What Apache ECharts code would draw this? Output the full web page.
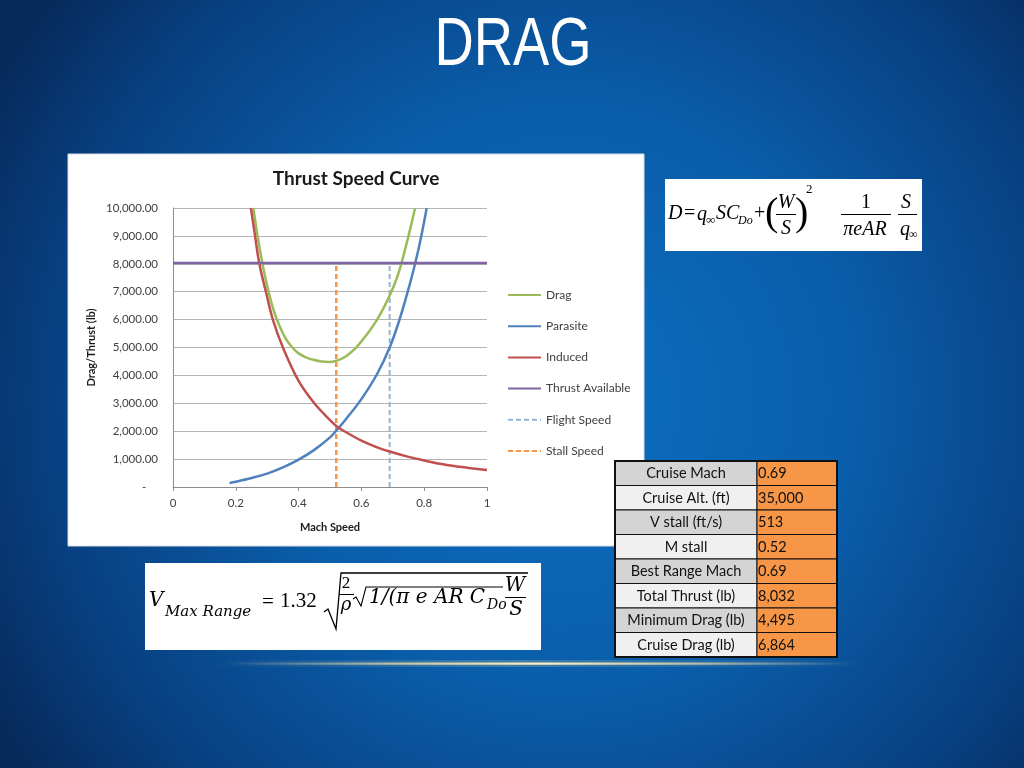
<!DOCTYPE html>
<html>
<head>
<meta charset="utf-8">
<script src="https://cdn.jsdelivr.net/npm/echarts@6/dist/echarts.min.js"></script>
<style>
html,body{margin:0;padding:0;width:1024px;height:768px;overflow:hidden;background:#0a4f98;}
#c{width:1024px;height:768px;}
</style>
</head>
<body>
<div id="c"></div>
<script>
// ---- chart data ----
const dragMach = [0.256,0.27,0.285,0.30,0.32,0.34,0.36,0.38,0.40,0.425,0.45,0.475,0.495,0.52,0.55,0.58,0.60,0.625,0.65,0.67,0.69,0.71,0.727,0.75,0.771];
const dragLb   = [10000,8950,8000,7200,6350,5750,5300,5000,4790,4640,4550,4495,4480,4520,4680,4960,5220,5580,6000,6400,6860,7400,8000,9000,10000];
const parasiteMach = [0.18,0.20,0.25,0.30,0.35,0.40,0.45,0.50,0.52,0.55,0.60,0.65,0.69,0.72,0.75,0.771,0.79,0.808];
const parasiteLb   = [140,185,320,480,700,980,1330,1780,2020,2420,3150,4050,5000,5950,7100,8000,8950,10000];
const inducedMach = [0.248,0.26,0.275,0.30,0.318,0.35,0.40,0.45,0.50,0.52,0.55,0.60,0.65,0.69,0.75,0.80,0.85,0.90,0.95,1.00];
const inducedLb   = [10000,9100,8000,6800,6000,5000,3800,3000,2400,2190,1970,1660,1420,1270,1080,950,830,740,670,610];
const thrustLb = 8032;
const cruiseMach = 0.69;
const stallMach = 0.52;
const xTicks = [0,0.2,0.4,0.6,0.8,1];
const legendNames = ['Drag','Parasite','Induced','Thrust Available','Flight Speed','Stall Speed'];
// ---- table data ----
const tableLabels = ['Cruise Mach','Cruise Alt. (ft)','V stall (ft/s)','M stall','Best Range Mach','Total Thrust (lb)','Minimum Drag (lb)','Cruise Drag (lb)'];
const tableValues = ['0.69','35,000','513','0.52','0.69','8,032','4,495','6,864'];

function pairs(xs, ys){ return xs.map((x,i)=>[x, ys[i]]); }

const chart = echarts.init(document.getElementById('c'), null, {renderer:'canvas'});

const CAL = 'Lato, "Open Sans", "Liberation Sans", sans-serif';
const SERIF = '"Liberation Serif", "DejaVu Serif", serif';
const DSERIF = '"DejaVu Serif", "Liberation Serif", serif';

function txt(x, y, text, font, opts){
  opts = opts || {};
  const el = {
    type:'text', x:x, y:y, z: opts.z !== undefined ? opts.z : 50,
    style:{
      text:text, font:font, fill: opts.fill || '#000',
      textAlign: opts.align || 'left', align: opts.align || 'left',
      textVerticalAlign: opts.valign || 'middle', verticalAlign: opts.valign || 'middle'
    }
  };
  if (opts.scaleX) el.scaleX = opts.scaleX;
  return el;
}
function hline(x1, x2, y, w, color, z){
  return {type:'line', z: z || 50, shape:{x1:x1,y1:y,x2:x2,y2:y}, style:{stroke: color || '#000', lineWidth: w || 1}};
}

const g = [];
// background
g.push({type:'rect', z:-100, shape:{x:0,y:0,width:1024,height:768},
  style:{fill:{type:'radial', x:0.55, y:0.52, r:0.85, colorStops:[
    {offset:0, color:'#0c6fc3'},{offset:0.45, color:'#0a5da9'},{offset:0.8, color:'#083f80'},{offset:1, color:'#062a5a'}]}}});
// title
g.push(txt(513, 46, 'DRAG', '68px "Liberation Sans", Arial, sans-serif', {fill:'#ffffff', align:'center', scaleX:0.8}));
// golden line
g.push({type:'rect', z:-50, shape:{x:210,y:660,width:660,height:7},
  style:{fill:{type:'linear',x:0,y:0,x2:1,y2:0,colorStops:[
    {offset:0,color:'rgba(230,210,150,0)'},{offset:0.45,color:'rgba(230,210,150,0.25)'},{offset:1,color:'rgba(230,210,150,0)'}]}}});
g.push({type:'rect', z:-49, shape:{x:225,y:662.5,width:630,height:2.2},
  style:{fill:{type:'linear',x:0,y:0,x2:1,y2:0,colorStops:[
    {offset:0,color:'rgba(240,225,170,0)'},{offset:0.3,color:'rgba(240,225,170,0.8)'},{offset:0.5,color:'rgba(250,240,200,1)'},{offset:0.75,color:'rgba(240,225,170,0.7)'},{offset:1,color:'rgba(240,225,170,0)'}]}}});
// chart white box
g.push({type:'rect', z:-10, shape:{x:68,y:154,width:576,height:392}, style:{fill:'#ffffff', stroke:'#d8dde8', lineWidth:1}});
// chart title
g.push(txt(356, 179, 'Thrust Speed Curve', 'bold 19px ' + CAL, {fill:'#1a1a1a', align:'center', z:5}));

// formula 1 box
g.push({type:'rect', z:10, shape:{x:665,y:179,width:257,height:72}, style:{fill:'#ffffff'}});
const F1 = 'italic 20px ' + SERIF, F1u = '20px ' + SERIF;
g.push(txt(668, 214, 'D', F1));
g.push(txt(684, 214, '=', F1u));
g.push(txt(697, 215, 'q', F1));
g.push(txt(706, 221, '\u221e', '13px ' + SERIF));
g.push(txt(716, 214, 'SC', F1));
g.push(txt(738, 221, 'Do', 'italic 12px ' + SERIF));
g.push(txt(754, 214, '+', F1u));
g.push(txt(765, 214, '(', '40px ' + SERIF));
g.push(txt(786, 203, 'W', F1, {align:'center'}));
g.push(hline(776, 796, 214.5, 1));
g.push(txt(786, 229, 'S', F1, {align:'center'}));
g.push(txt(795, 214, ')', '40px ' + SERIF));
g.push(txt(806, 190, '2', '13px ' + SERIF));
g.push(txt(866, 203, '1', F1u, {align:'center'}));
g.push(hline(841, 891, 214.5, 1));
g.push(txt(865, 230, '\u03c0eAR', F1, {align:'center'}));
g.push(txt(906, 203, 'S', F1, {align:'center'}));
g.push(hline(898, 917, 214.5, 1));
g.push(txt(900, 230, 'q', F1));
g.push(txt(909, 235, '\u221e', '12px ' + SERIF));

// formula 2 box
g.push({type:'rect', z:10, shape:{x:145,y:563,width:396,height:87}, style:{fill:'#ffffff'}});
const F2 = 'italic 20px ' + DSERIF;
g.push(txt(149, 601, 'V', F2));
g.push(txt(165, 612, 'Max Range', 'italic 15px ' + DSERIF));
g.push(txt(262, 602, '=', '21px ' + SERIF));
g.push(txt(280, 601, '1.32', '21px ' + SERIF));
g.push({type:'polyline', z:50, shape:{points:[[324,612],[328,609],[336,629],[341,573],[528,573]]}, style:{stroke:'#000', lineWidth:1.3, fill:null}});
g.push(txt(346, 584, '2', '17px ' + SERIF, {align:'center'}));
g.push(hline(339, 354, 594.5, 1));
g.push(txt(346, 605, '\u03c1', 'italic 18px ' + DSERIF, {align:'center'}));
g.push({type:'polyline', z:50, shape:{points:[[353,599],[356,597],[361,606],[366,587],[503,587]]}, style:{stroke:'#000', lineWidth:1.1, fill:null}});
g.push(txt(369, 598, '1/(\u03c0 e AR C', 'italic 20px ' + DSERIF));
g.push(txt(487, 605, 'Do', 'italic 14px ' + DSERIF));
g.push(txt(515, 586, 'W', F2, {align:'center'}));
g.push(hline(505, 526, 597.5, 1));
g.push(txt(516, 610, 'S', F2, {align:'center'}));

// table
const tx = 615, ty = 461, rh = 24.5, w1 = 142, w2 = 80;
tableLabels.forEach((lab, i) => {
  const y = ty + i * rh;
  g.push({type:'rect', z:60, shape:{x:tx,y:y,width:w1,height:rh}, style:{fill: i % 2 === 0 ? '#d4d4d4' : '#f0f0f0', stroke:'#111', lineWidth:1}});
  g.push({type:'rect', z:60, shape:{x:tx+w1,y:y,width:w2,height:rh}, style:{fill:'#f79646', stroke:'#111', lineWidth:1}});
  g.push(txt(tx + w1/2, y + rh/2 + 0.5, lab, '14.5px ' + CAL, {align:'center', fill:'#111', z:61}));
  g.push(txt(tx + w1 + 1, y + rh/2 + 0.5, tableValues[i], '14.5px ' + CAL, {fill:'#111', z:61}));
});
g.push({type:'rect', z:62, shape:{x:tx,y:ty,width:w1+w2,height:rh*8}, style:{fill:null, stroke:'#111', lineWidth:2}});

const option = {
  animation:false,
  backgroundColor:'transparent',
  graphic: g,
  grid:{left:173, top:208, width:314, height:279, containLabel:false},
  legend:{
    orient:'vertical', left:502, top:283, itemWidth:33, itemHeight:14, itemGap:17.2, itemTextGap:4,
    data: legendNames,
    itemStyle:{opacity:0},
    textStyle:{fontSize:12, color:'#404040', fontFamily:CAL, lineHeight:14}
  },
  xAxis:{
    type:'value', min:0, max:1, interval:0.2,
    name:'Mach Speed', nameLocation:'middle', nameGap:35,
    nameTextStyle:{fontSize:11, fontWeight:'bold', color:'#1a1a1a', fontFamily:CAL},
    axisLine:{show:true, lineStyle:{color:'#8c8c8c', width:1}},
    axisTick:{show:true, length:4, lineStyle:{color:'#8c8c8c'}},
    axisLabel:{fontSize:11.5, color:'#404040', fontFamily:CAL, margin:10,
      formatter: v => { const t = xTicks.find(k => Math.abs(k - v) < 1e-9); return t === undefined ? '' : String(t); }},
    splitLine:{show:false}
  },
  yAxis:{
    type:'value', min:0, max:10000, interval:1000,
    name:'Drag/Thrust (lb)', nameLocation:'middle', nameGap:76, nameRotate:90,
    nameTextStyle:{fontSize:11, fontWeight:'bold', color:'#1a1a1a', fontFamily:CAL},
    axisLine:{show:true, lineStyle:{color:'#8c8c8c', width:1}},
    axisTick:{show:false},
    axisLabel:{fontSize:11.5, color:'#404040', fontFamily:CAL, margin:15,
      formatter: v => v === 0 ? '-    ' : v.toLocaleString('en-US', {minimumFractionDigits:2, maximumFractionDigits:2})},
    splitLine:{show:true, lineStyle:{color:'#b4b4b4', width:1}}
  },
  series:[
    {name:'Drag', type:'line', data:pairs(dragMach, dragLb), smooth:0.35, symbol:'none', z:3,
      lineStyle:{color:'#9BBB59', width:2.5}, itemStyle:{color:'#9BBB59'}},
    {name:'Parasite', type:'line', data:pairs(parasiteMach, parasiteLb), smooth:0.35, symbol:'none', z:3,
      lineStyle:{color:'#4F81BD', width:2.5}, itemStyle:{color:'#4F81BD'}},
    {name:'Induced', type:'line', data:pairs(inducedMach, inducedLb), smooth:0.35, symbol:'none', z:3,
      lineStyle:{color:'#C0504D', width:2.5}, itemStyle:{color:'#C0504D'}},
    {name:'Thrust Available', type:'line', data:[[0, thrustLb],[1, thrustLb]], symbol:'none', z:4,
      lineStyle:{color:'#7F64A2', width:2.5}, itemStyle:{color:'#7F64A2'}},
    {name:'Flight Speed', type:'line', data:[[cruiseMach, 0],[cruiseMach, thrustLb]], symbol:'none', z:2,
      lineStyle:{color:'#95B3D7', width:2, type:[5,3]}, itemStyle:{color:'#95B3D7'}},
    {name:'Stall Speed', type:'line', data:[[stallMach, 0],[stallMach, thrustLb]], symbol:'none', z:2,
      lineStyle:{color:'#F79646', width:2.5, type:[5,3]}, itemStyle:{color:'#F79646'}}
  ]
};
chart.setOption(option);
</script>
</body>
</html>
